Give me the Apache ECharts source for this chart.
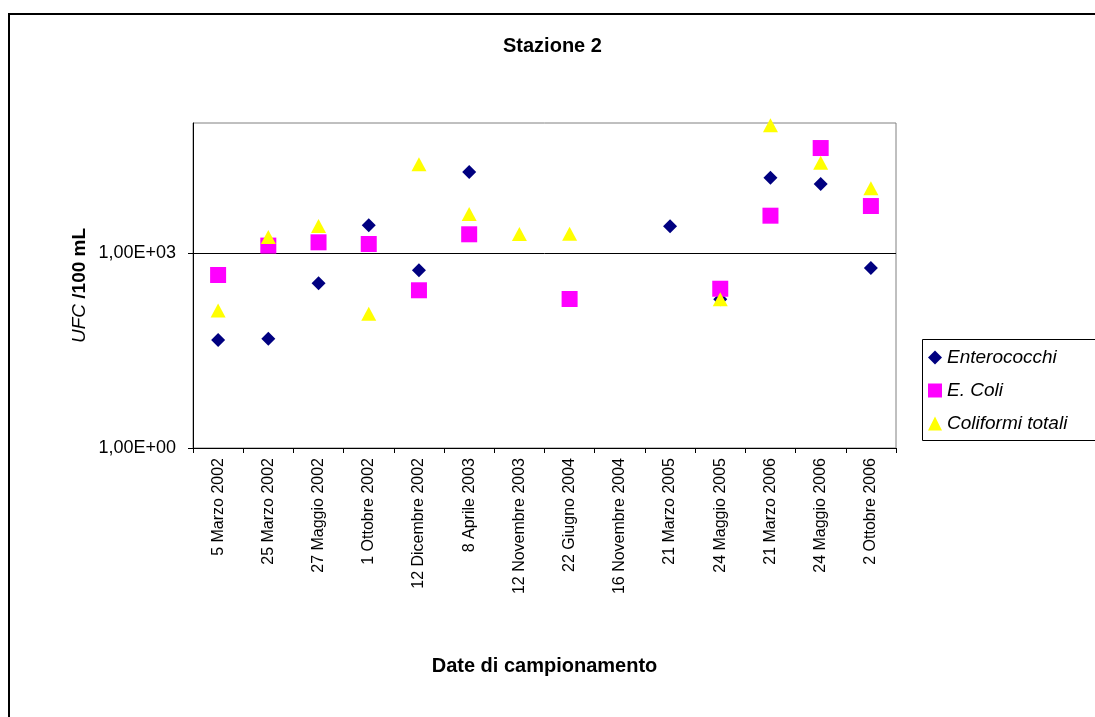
<!DOCTYPE html>
<html>
<head>
<meta charset="utf-8">
<script src="https://cdn.jsdelivr.net/npm/echarts@6/dist/echarts.min.js"></script>
<style>html,body{margin:0;padding:0;background:#fff}#c{width:1095px;height:717px}</style>
</head>
<body>
<div id="c"></div>
<script>
const categories = ['5 Marzo 2002','25 Marzo 2002','27 Maggio 2002','1 Ottobre 2002','12 Dicembre 2002','8 Aprile 2003','12 Novembre 2003','22 Giugno 2004','16 Novembre 2004','21 Marzo 2005','24 Maggio 2005','21 Marzo 2006','24 Maggio 2006','2 Ottobre 2006'];
const enterococchi = [46, 48, 342, 2670, 541, 17600, null, null, null, 2570, 194, 14400, 11500, 589];
const eColi = [459, 1300, 1460, 1375, 267, 1940, null, 196, null, null, 282, 3750, 41200, 5280];
const coliformiTotali = [131, 1760, 2600, 116, 23200, 3980, 1960, 1980, null, null, 194, 92300, 24500, 9890];
const yTickValues = [1, 1000];

const FONT = 'Liberation Sans, Arial, sans-serif';
function fmtExp(v) {
  const e = Math.round(Math.log10(v));
  const m = v / Math.pow(10, e);
  const es = (e < 0 ? '-' : '+') + String(Math.abs(e)).padStart(2, '0');
  return m.toFixed(2).replace('.', ',') + 'E' + es;
}

const chart = echarts.init(document.getElementById('c'));
chart.setOption({
  animation: false,
  backgroundColor: '#fff',
  title: {
    text: 'Stazione 2', left: 503, top: 36, padding: 0,
    textStyle: { fontFamily: FONT, fontSize: 20, fontWeight: 'bold', color: '#000' }
  },
  graphic: [
    { type: 'rect', shape: { x: 9, y: 14, width: 2000, height: 2000 }, style: { fill: 'none', stroke: '#000', lineWidth: 2 }, silent: true },
    { type: 'rect', shape: { x: 922.5, y: 339.5, width: 300, height: 101 }, style: { fill: 'none', stroke: '#000', lineWidth: 1 }, silent: true }
  ],
  legend: {
    orient: 'vertical', left: 928, top: 348, padding: 0,
    itemWidth: 14, itemHeight: 14, itemGap: 14,
    textStyle: { fontFamily: FONT, fontSize: 19, fontStyle: 'italic', color: '#000' },
    data: ['Enterococchi', 'E. Coli', 'Coliformi totali']
  },
  grid: {
    left: 193, right: 199, top: 123, bottom: 269,
    show: true, borderColor: '#808080', borderWidth: 1, backgroundColor: '#fff'
  },
  xAxis: {
    type: 'category', data: categories, boundaryGap: true,
    axisLine: { lineStyle: { color: '#000', width: 1 } },
    axisTick: { show: true, length: 5, lineStyle: { color: '#000' } },
    axisLabel: { interval: 0, rotate: 90, margin: 10, fontFamily: FONT, fontSize: 16, color: '#000' },
    name: 'Date di campionamento', nameLocation: 'middle', nameGap: 208,
    nameTextStyle: { fontFamily: FONT, fontSize: 20, fontWeight: 'bold', color: '#000' }
  },
  yAxis: {
    type: 'log', logBase: 10, min: 1, max: 100000,
    axisLine: { show: true, lineStyle: { color: '#000', width: 1 } },
    axisTick: { show: true, length: 5, customValues: yTickValues, lineStyle: { color: '#000' } },
    axisLabel: { customValues: yTickValues, margin: 17, fontFamily: FONT, fontSize: 18, color: '#000', formatter: fmtExp },
    splitLine: { show: true, lineStyle: { color: '#000', width: 1 } },
    minorTick: { show: false }, minorSplitLine: { show: false },
    name: '{i|UFC} {b|/100 mL}', nameLocation: 'middle', nameGap: 104, nameRotate: 90,
    nameMoveOverlap: false,
    nameTextStyle: {
      fontFamily: FONT, fontSize: 19, color: '#000',
      rich: {
        i: { fontFamily: FONT, fontSize: 19, fontStyle: 'italic', color: '#000' },
        b: { fontFamily: FONT, fontSize: 19, fontWeight: 'bold', color: '#000' }
      }
    }
  },
  series: [
    { name: 'Enterococchi', type: 'scatter', data: enterococchi, symbol: 'diamond', symbolSize: 14, itemStyle: { color: '#000080', opacity: 1 } },
    { name: 'E. Coli', type: 'scatter', data: eColi, symbol: 'rect', symbolSize: 16, itemStyle: { color: '#FF00FF', opacity: 1 } },
    { name: 'Coliformi totali', type: 'scatter', data: coliformiTotali, symbol: 'triangle', symbolSize: [15, 14], itemStyle: { color: '#FFFF00', opacity: 1 } }
  ]
});
</script>
</body>
</html>
